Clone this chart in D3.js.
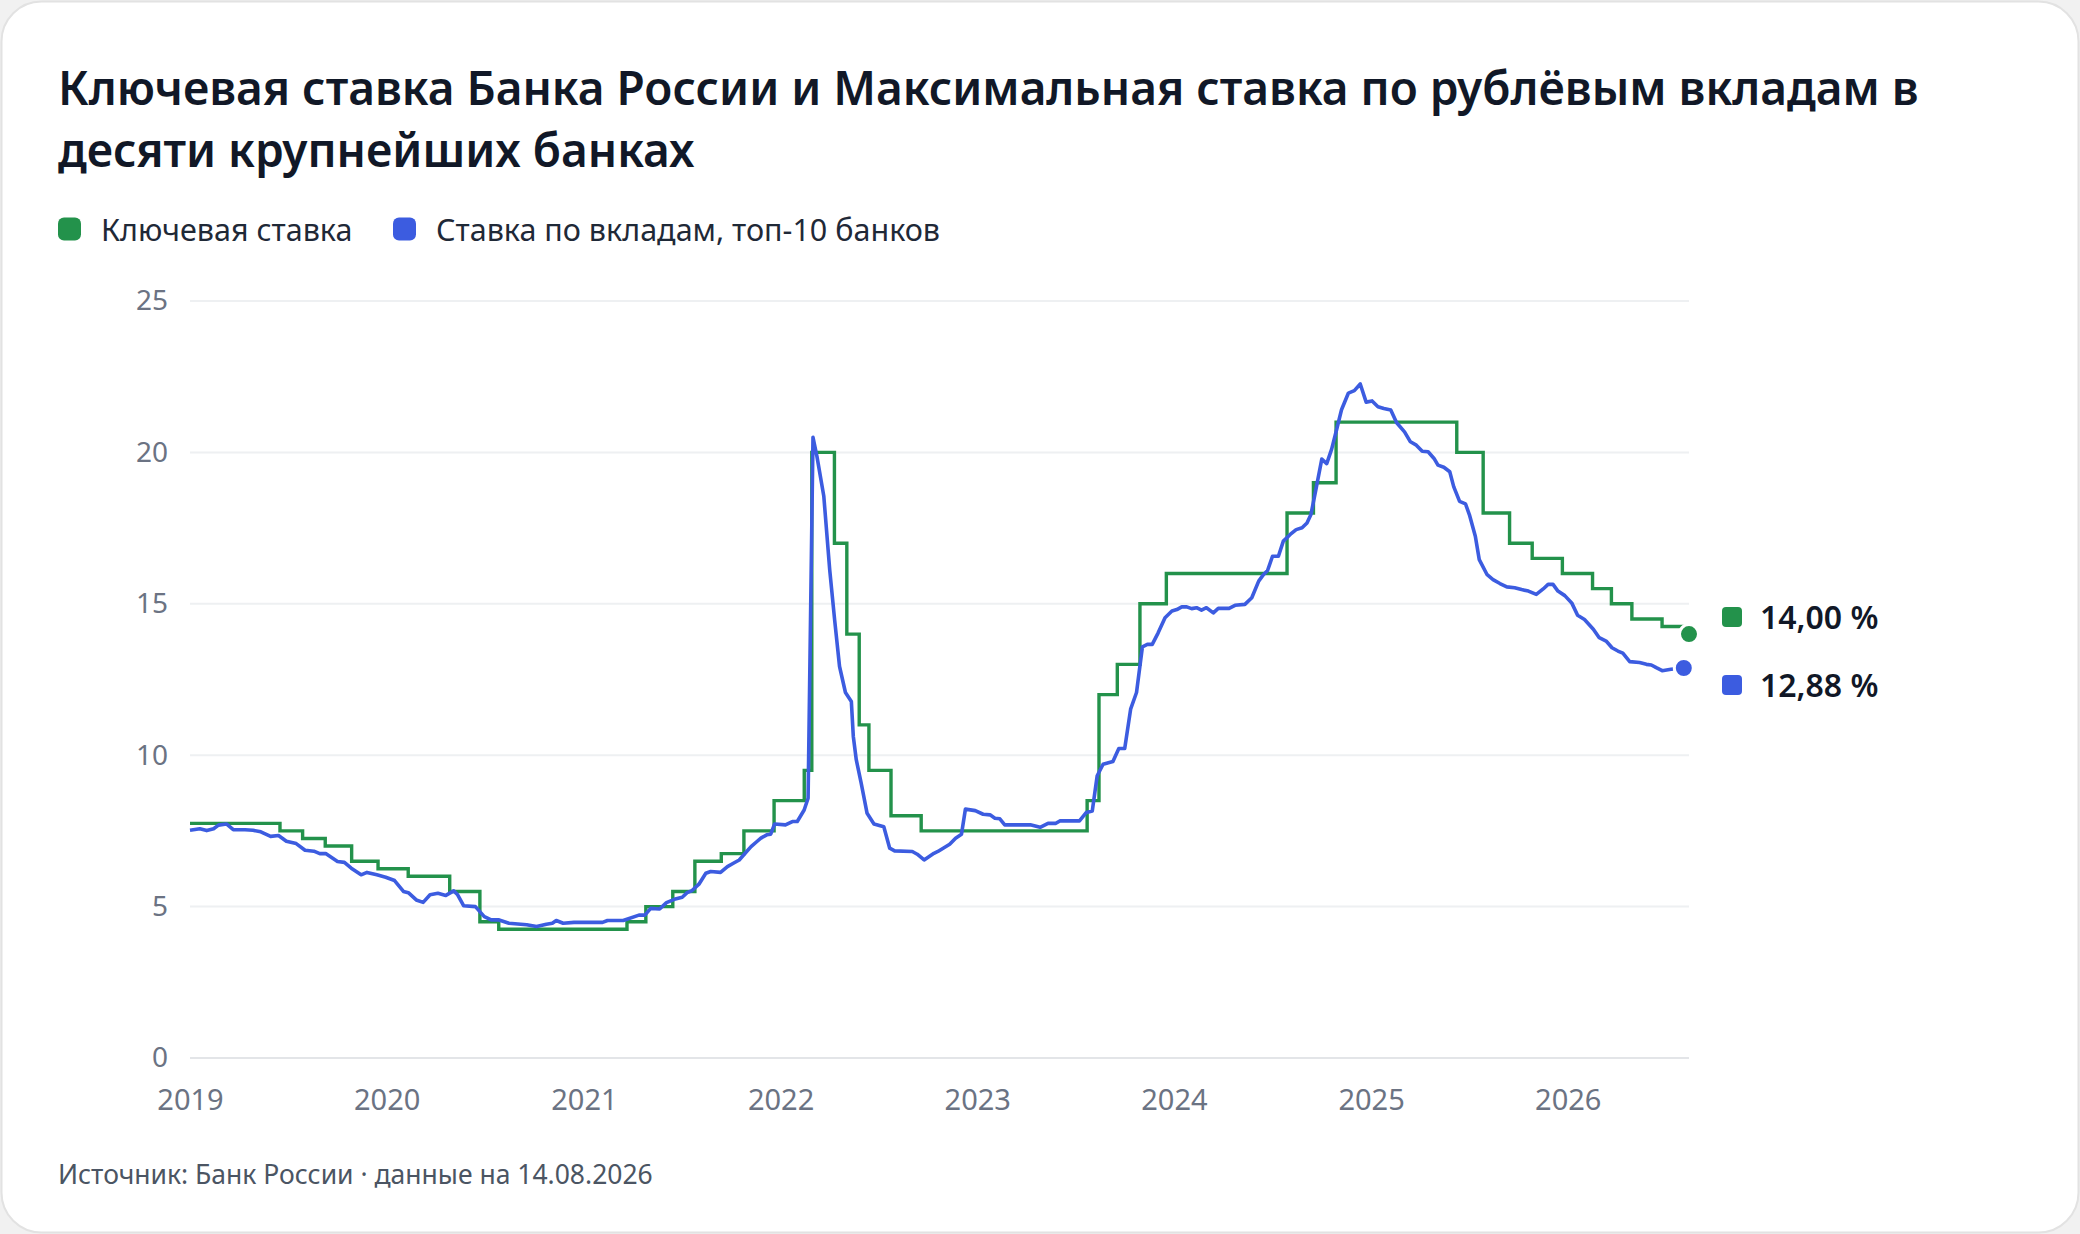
<!DOCTYPE html>
<html lang="ru">
<head>
<meta charset="utf-8">
<script src="https://cdn.jsdelivr.net/npm/d3@7"></script>
<style>
  html, body { margin: 0; padding: 0; background: #f1f1f1; }
  svg { display: block; font-family: "Noto Sans", "Open Sans", sans-serif; }
</style>
</head>
<body>
<div id="chart"></div>
<script>
// ключевая ставка: дата решения -> новое значение
const keyDates = ["2019-01-01", "2019-06-17", "2019-07-29", "2019-09-09", "2019-10-28", "2019-12-16",
  "2020-02-10", "2020-04-27", "2020-06-22", "2020-07-27", "2021-03-22", "2021-04-26", "2021-06-15",
  "2021-07-26", "2021-09-13", "2021-10-25", "2021-12-20", "2022-02-14", "2022-02-28", "2022-04-11",
  "2022-05-04", "2022-05-27", "2022-06-14", "2022-07-25", "2022-09-19", "2023-07-24", "2023-08-15",
  "2023-09-18", "2023-10-30", "2023-12-18", "2024-07-29", "2024-09-16", "2024-10-28", "2025-06-09",
  "2025-07-28", "2025-09-15", "2025-10-27", "2025-12-22", "2026-02-16", "2026-03-23", "2026-04-30",
  "2026-06-25", "2026-08-14"];
const keyRates = [7.75, 7.5, 7.25, 7.0, 6.5, 6.25,
  6.0, 5.5, 4.5, 4.25, 4.5, 5.0, 5.5,
  6.5, 6.75, 7.5, 8.5, 9.5, 20.0, 17.0,
  14.0, 11.0, 9.5, 8.0, 7.5, 8.5, 12.0,
  13.0, 15.0, 16.0, 18.0, 19.0, 21.0, 20.0,
  18.0, 17.0, 16.5, 16.0, 15.5, 15.0, 14.5,
  14.25, 14.0];

// максимальная ставка топ-10 банков (момент в долях года, %)
const depositT = [2019.00, 2019.05, 2019.085, 2019.12, 2019.145, 2019.185, 2019.22, 2019.28, 2019.32, 2019.36,
  2019.41, 2019.45, 2019.49, 2019.54, 2019.585, 2019.63, 2019.66, 2019.69, 2019.75, 2019.785,
  2019.82, 2019.87, 2019.90, 2019.95, 2019.995, 2020.04, 2020.085, 2020.11, 2020.15, 2020.185,
  2020.22, 2020.26, 2020.30, 2020.34, 2020.36, 2020.39, 2020.45, 2020.495, 2020.53, 2020.57,
  2020.62, 2020.71, 2020.76, 2020.81, 2020.84, 2020.86, 2020.895, 2020.95, 2021.095, 2021.12,
  2021.20, 2021.28, 2021.31, 2021.34, 2021.385, 2021.42, 2021.46, 2021.50, 2021.525, 2021.55,
  2021.585, 2021.62, 2021.645, 2021.695, 2021.73, 2021.76, 2021.79, 2021.82, 2021.85, 2021.88,
  2021.90, 2021.93, 2021.95, 2021.97, 2022.025, 2022.06, 2022.085, 2022.12, 2022.14, 2022.165,
  2022.185, 2022.22, 2022.25, 2022.275, 2022.30, 2022.33, 2022.36, 2022.37, 2022.385, 2022.41,
  2022.44, 2022.475, 2022.525, 2022.555, 2022.58, 2022.67, 2022.695, 2022.73, 2022.78, 2022.80,
  2022.86, 2022.89, 2022.92, 2022.94, 2022.99, 2023.03, 2023.065, 2023.09, 2023.115, 2023.14,
  2023.27, 2023.32, 2023.36, 2023.40, 2023.42, 2023.52, 2023.555, 2023.585, 2023.61, 2023.64,
  2023.69, 2023.72, 2023.75, 2023.78, 2023.81, 2023.84, 2023.865, 2023.89, 2023.92, 2023.955,
  2023.99, 2024.015, 2024.04, 2024.065, 2024.09, 2024.115, 2024.14, 2024.165, 2024.20, 2024.225,
  2024.28, 2024.31, 2024.36, 2024.395, 2024.43, 2024.455, 2024.475, 2024.50, 2024.53, 2024.555,
  2024.59, 2024.62, 2024.65, 2024.675, 2024.695, 2024.72, 2024.75, 2024.775, 2024.80, 2024.825,
  2024.85, 2024.885, 2024.915, 2024.945, 2024.975, 2025.005, 2025.035, 2025.065, 2025.10, 2025.13,
  2025.17, 2025.20, 2025.23, 2025.26, 2025.29, 2025.32, 2025.34, 2025.37, 2025.40, 2025.42,
  2025.45, 2025.48, 2025.50, 2025.53, 2025.55, 2025.59, 2025.62, 2025.655, 2025.69, 2025.73,
  2025.765, 2025.80, 2025.84, 2025.875, 2025.90, 2025.925, 2025.95, 2025.985, 2026.02, 2026.05,
  2026.085, 2026.13, 2026.16, 2026.195, 2026.225, 2026.255, 2026.28, 2026.315, 2026.365, 2026.40,
  2026.425, 2026.45, 2026.48, 2026.525, 2026.59];
const depositRates = [7.52, 7.57, 7.51, 7.57, 7.69, 7.73, 7.54, 7.54, 7.52, 7.47,
  7.32, 7.35, 7.16, 7.08, 6.86, 6.83, 6.75, 6.75, 6.49, 6.46,
  6.27, 6.05, 6.13, 6.05, 5.97, 5.86, 5.50, 5.46, 5.22, 5.14,
  5.39, 5.44, 5.37, 5.52, 5.39, 5.03, 5.00, 4.67, 4.56, 4.56,
  4.45, 4.40, 4.34, 4.42, 4.45, 4.54, 4.45, 4.48, 4.48, 4.54,
  4.54, 4.72, 4.72, 4.94, 4.92, 5.13, 5.24, 5.31, 5.46, 5.53,
  5.74, 6.10, 6.16, 6.13, 6.32, 6.43, 6.54, 6.76, 6.98, 7.15,
  7.26, 7.37, 7.39, 7.73, 7.70, 7.81, 7.81, 8.19, 8.58, 20.5,
  19.87, 18.55, 16.12, 14.47, 12.93, 12.07, 11.77, 10.62, 9.85, 9.08,
  8.08, 7.73, 7.64, 6.93, 6.84, 6.82, 6.73, 6.54, 6.76, 6.82,
  7.06, 7.26, 7.39, 8.22, 8.17, 8.05, 8.03, 7.92, 7.90, 7.70,
  7.70, 7.62, 7.75, 7.75, 7.83, 7.83, 8.11, 8.16, 9.32, 9.70,
  9.79, 10.22, 10.22, 11.52, 12.07, 13.58, 13.66, 13.66, 14.04, 14.54,
  14.76, 14.81, 14.90, 14.90, 14.84, 14.87, 14.79, 14.87, 14.70, 14.85,
  14.85, 14.95, 14.98, 15.20, 15.75, 15.97, 16.10, 16.57, 16.57, 17.07,
  17.29, 17.45, 17.51, 17.67, 17.95, 18.77, 19.78, 19.63, 20.11, 20.75,
  21.41, 21.96, 22.04, 22.26, 21.66, 21.70, 21.51, 21.45, 21.40, 20.98,
  20.68, 20.35, 20.24, 20.04, 20.02, 19.80, 19.58, 19.51, 19.36, 18.87,
  18.38, 18.30, 17.94, 17.23, 16.46, 15.96, 15.80, 15.67, 15.56, 15.53,
  15.47, 15.42, 15.31, 15.49, 15.64, 15.64, 15.42, 15.27, 15.03, 14.62,
  14.48, 14.16, 13.88, 13.77, 13.55, 13.44, 13.37, 13.09, 13.06, 13.00,
  12.98, 12.89, 12.79, 12.84, 12.88];

const yearTicks = [2019, 2020, 2021, 2022, 2023, 2024, 2025, 2026];
const valueTicks = [0, 5, 10, 15, 20, 25];

const seriesNames = ["Ключевая ставка", "Ставка по вкладам, топ-10 банков"];
const seriesColors = ["#23924b", "#3c5ce0"];

const W = 2080, H = 1234;
const margin = { top: 301, right: 391, bottom: 176, left: 190 };

const parseDate = d3.timeParse("%Y-%m-%d");
// доли года -> дата
function yearFracToDate(t) {
  const y = Math.floor(t);
  const start = new Date(y, 0, 1), end = new Date(y + 1, 0, 1);
  return new Date(+start + (t - y) * (end - start));
}

const keyData = keyDates.map((d, i) => ({ date: parseDate(d), value: keyRates[i] }));
const depData = depositT.map((t, i) => ({ date: yearFracToDate(t), value: depositRates[i] }));

const svg = d3.select("#chart").append("svg")
  .attr("width", W)
  .attr("height", H);

// карточка
svg.append("rect")
  .attr("x", 1.5).attr("y", 1.5)
  .attr("width", W - 3).attr("height", H - 3)
  .attr("rx", 40)
  .attr("fill", "#fff")
  .attr("stroke", "#e2e2e2")
  .attr("stroke-width", 2);

// заголовок
const title = svg.append("text")
  .attr("x", 58)
  .attr("fill", "#111827")
  .style("font-size", "46px")
  .style("font-weight", 600);
title.append("tspan").attr("x", 58).attr("y", 105)
  .text("Ключевая ставка Банка России и Максимальная ставка по рублёвым вкладам в");
title.append("tspan").attr("x", 58).attr("y", 167)
  .text("десяти крупнейших банках");

// легенда
const legendX = [58, 393];
seriesNames.forEach((name, i) => {
  const g = svg.append("g").attr("transform", "translate(" + legendX[i] + ",229)");
  g.append("rect")
    .attr("x", 0).attr("y", -11.5)
    .attr("width", 23).attr("height", 23)
    .attr("rx", 6)
    .attr("fill", seriesColors[i]);
  g.append("text")
    .attr("x", 43).attr("dy", "0.38em")
    .attr("fill", "#1f2937")
    .style("font-size", "30.5px")
    .text(name);
});

const x = d3.scaleTime()
  .domain([parseDate("2019-01-01"), parseDate("2026-08-14")])
  .range([margin.left, W - margin.right]);

const y = d3.scaleLinear()
  .domain([0, 25])
  .range([H - margin.bottom, margin.top]);

// сетка
svg.append("g")
  .selectAll("line")
  .data(valueTicks)
  .enter()
  .append("line")
  .attr("x1", margin.left)
  .attr("x2", W - margin.right)
  .attr("y1", d => y(d))
  .attr("y2", d => y(d))
  .attr("stroke", d => d === 0 ? "#e3e5e8" : "#eef0f2")
  .attr("stroke-width", 2);

// ось Y
const yAxis = svg.append("g")
  .attr("transform", "translate(" + (margin.left - 22) + ",0)")
  .call(d3.axisLeft(y).tickValues(valueTicks).tickSize(0).tickPadding(0));
yAxis.select(".domain").remove();
yAxis.selectAll("text")
  .attr("fill", "#6b7383")
  .style("font-size", "28px")
  .style("font-family", "\"Noto Sans\", sans-serif");

// ось X
const xAxis = svg.append("g")
  .attr("transform", "translate(0," + (H - margin.bottom) + ")")
  .call(d3.axisBottom(x)
    .tickValues(yearTicks.map(yr => new Date(yr, 0, 1)))
    .tickFormat(d3.timeFormat("%Y"))
    .tickSize(0)
    .tickPadding(31));
xAxis.select(".domain").remove();
xAxis.selectAll("text")
  .attr("fill", "#6b7383")
  .style("font-size", "29px")
  .style("font-family", "\"Noto Sans\", sans-serif");

// линии
const keyLine = d3.line()
  .x(d => x(d.date))
  .y(d => y(d.value))
  .curve(d3.curveStepAfter);

const depLine = d3.line()
  .x(d => x(d.date))
  .y(d => y(d.value));

svg.append("path")
  .datum(keyData)
  .attr("fill", "none")
  .attr("stroke", seriesColors[0])
  .attr("stroke-width", 3.4)
  .attr("d", keyLine);

svg.append("path")
  .datum(depData)
  .attr("fill", "none")
  .attr("stroke", seriesColors[1])
  .attr("stroke-width", 3.6)
  .attr("stroke-linejoin", "round")
  .attr("d", depLine);

// точки на последних значениях
const lastPoints = [keyData[keyData.length - 1], depData[depData.length - 1]];
svg.append("g")
  .selectAll("circle")
  .data(lastPoints)
  .enter()
  .append("circle")
  .attr("cx", d => x(d.date))
  .attr("cy", d => y(d.value))
  .attr("r", 9.5)
  .attr("fill", (d, i) => seriesColors[i])
  .attr("stroke", "#fff")
  .attr("stroke-width", 3);

// подписи последних значений, разведённые по вертикали
const minGap = 68;
let labelY = lastPoints.map(d => y(d.value));
const mid = d3.mean(labelY);
if (labelY[1] - labelY[0] < minGap) {
  labelY = [mid - minGap / 2, mid + minGap / 2];
}
const fmt = v => v.toFixed(2).replace(".", ",") + " %";
lastPoints.forEach((d, i) => {
  const g = svg.append("g").attr("transform", "translate(1722," + labelY[i] + ")");
  g.append("rect")
    .attr("x", 0).attr("y", -10)
    .attr("width", 20).attr("height", 20)
    .attr("rx", 4)
    .attr("fill", seriesColors[i]);
  g.append("text")
    .attr("x", 38).attr("dy", "0.36em")
    .attr("fill", "#111827")
    .style("font-size", "32px")
    .style("font-weight", 600)
    .text(fmt(d.value));
});

// источник
svg.append("text")
  .attr("x", 58).attr("y", 1184)
  .attr("fill", "#4b5563")
  .style("font-size", "26.5px")
  .text("Источник: Банк России · данные на 14.08.2026");
</script>
</body>
</html>
